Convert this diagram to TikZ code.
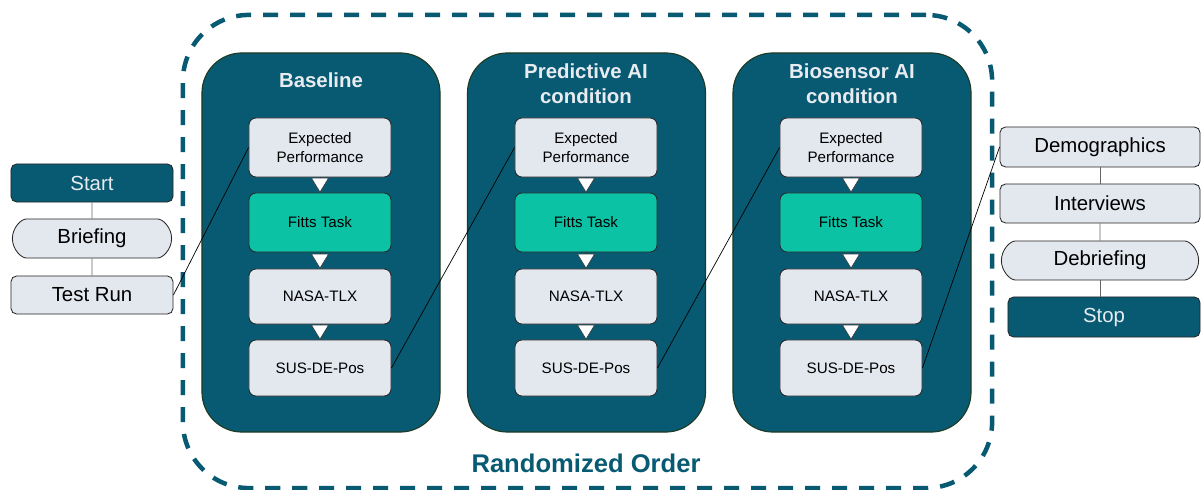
\documentclass[tikz,border=0pt]{standalone}
\usepackage{fontspec}
\setmainfont{Liberation Sans}
\usetikzlibrary{arrows.meta, shapes.misc}

\definecolor{petrol}{HTML}{085A73}
\definecolor{fittsgreen}{HTML}{0CC2A5}
\definecolor{boxgrey}{HTML}{E3E7EE}
\definecolor{paletext}{HTML}{E8ECF1}
\definecolor{paneledge}{HTML}{1F3B24}

\begin{document}
\begin{tikzpicture}[x=0.025cm, y=-0.025cm]

\tikzset{step box/.style = {shape=rectangle, draw=black!85, fill=boxgrey, rounded corners=4pt, line width=0.6pt, inner sep=1pt, align=center, font=\fontsize{14.5}{17}\selectfont}}
\tikzset{term/.style = {step box, shape=rounded rectangle}}
\tikzset{endpoint/.style = {step box, fill=petrol, text=paletext}}
\tikzset{panel/.style = {shape=rectangle, draw=paneledge, fill=petrol, line width=0.8pt, rounded corners=1cm, minimum width=5.95cm, minimum height=9.475cm}}
\tikzset{title/.style = {text=paletext, align=center, font=\bfseries\fontsize{14.5}{17.8}\selectfont}}
\tikzset{task/.style = {step box, rounded corners=5pt, minimum width=3.55cm, font=\fontsize{10.8}{13.5}\selectfont}}
\tikzset{order/.style = {shape=rectangle, draw=petrol, line width=3.2pt, dash pattern=on 10.7pt off 8.5pt, rounded corners=1.65cm, minimum width=20.225cm, minimum height=11.825cm}}
\tikzset{flow/.style = {-{Triangle[width=12.8pt, length=10.5pt, fill=white]}, draw=black!80, line width=0.4pt}}
\tikzset{link/.style = {draw=black!60, line width=0.5pt}}

\useasboundingbox (0,0) rectangle (1201,490);
\clip (0,0) rectangle (1201,490);

%frame
\node[order] (frame) at (587.5,251.5) {};
\node[text=petrol, font=\bfseries\fontsize{18.2}{20}\selectfont] (rand) at (586,463) {Randomized Order};

%left column
\node[endpoint, minimum width=4.05cm, minimum height=0.95cm] (start) at (92,183) {Start};
\node[term, minimum width=4.05cm, minimum height=0.975cm] (brief) at (92,238.5) {Briefing};
\node[step box, minimum width=4.05cm, minimum height=0.95cm] (test) at (92,295) {Test Run};

%panels
\node[panel] (base) at (321,242.5) {};
\node[panel] (pred) at (586.5,242.5) {};
\node[panel] (bio) at (852,242.5) {};
\node[title] (basetitle) at (321,80) {Baseline};
\node[title] (predtitle) at (586,83.5) {Predictive AI\\condition};
\node[title] (biotitle) at (852,83.5) {Biosensor AI\\condition};

%baseline tasks
\node[task, minimum height=1.475cm] (b1) at (320,147.5) {Expected\\Performance};
\node[task, fill=fittsgreen, minimum height=1.475cm] (b2) at (320,222.5) {Fitts Task};
\node[task, minimum height=1.375cm] (b3) at (320,296.5) {NASA-TLX};
\node[task, minimum height=1.4cm] (b4) at (320,368) {SUS-DE-Pos};

%predictive tasks
\node[task, minimum height=1.475cm] (p1) at (586,147.5) {Expected\\Performance};
\node[task, fill=fittsgreen, minimum height=1.475cm] (p2) at (586,222.5) {Fitts Task};
\node[task, minimum height=1.375cm] (p3) at (586,296.5) {NASA-TLX};
\node[task, minimum height=1.4cm] (p4) at (586,368) {SUS-DE-Pos};

%biosensor tasks
\node[task, minimum height=1.475cm] (s1) at (851,147.5) {Expected\\Performance};
\node[task, fill=fittsgreen, minimum height=1.475cm] (s2) at (851,222.5) {Fitts Task};
\node[task, minimum height=1.375cm] (s3) at (851,296.5) {NASA-TLX};
\node[task, minimum height=1.4cm] (s4) at (851,368) {SUS-DE-Pos};

%right column
\node[step box, minimum width=5cm, minimum height=1cm] (demo) at (1100,147) {Demographics};
\node[step box, minimum width=5cm, minimum height=0.975cm] (inter) at (1100,203.5) {Interviews};
\node[term, minimum width=5cm, minimum height=0.975cm] (debrief) at (1100,260.5) {Debriefing};
\node[endpoint, minimum width=4.8cm, minimum height=1cm] (stop) at (1104,317) {Stop};

%edges
\draw [link] (start) -- (brief);
\draw [link] (brief) -- (test);
\draw [link] (demo.south -| inter.north) -- (inter);
\draw [link] (inter) -- (debrief);
\draw [link] (debrief.south) -- (debrief.south |- stop.north);
\draw [flow] (b1) -- (b2);
\draw [flow] (b2) -- (b3);
\draw [flow] (b3) -- (b4);
\draw [flow] (p1) -- (p2);
\draw [flow] (p2) -- (p3);
\draw [flow] (p3) -- (p4);
\draw [flow] (s1) -- (s2);
\draw [flow] (s2) -- (s3);
\draw [flow] (s3) -- (s4);
\draw [line width=0.5pt] (test.east) -- (b1.west);
\draw [line width=0.5pt] (b4.east) -- (p1.west);
\draw [line width=0.5pt] (p4.east) -- (s1.west);
\draw [line width=0.5pt] (s4.east) -- (demo.west);

\end{tikzpicture}
\end{document}
